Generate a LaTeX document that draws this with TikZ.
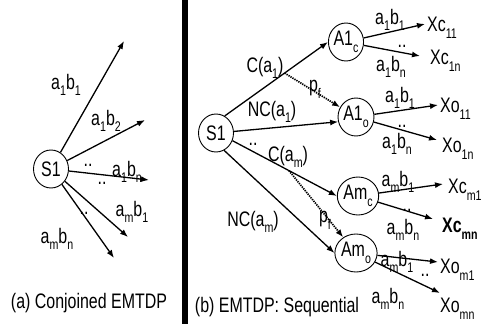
\documentclass[tikz,border=0pt]{standalone}
\usepackage{fontspec}
\setmainfont{Liberation Sans}[FakeStretch=0.76]
\usetikzlibrary{arrows.meta,shapes.geometric,calc}
\newcommand{\lo}[1]{\raisebox{-0.32em}{\fontsize{14}{14}\selectfont #1}}
\begin{document}
\begin{tikzpicture}[x=1pt,y=-1pt,
  every node/.style={font=\fontsize{21}{22}\selectfont, inner sep=0pt},
  st/.style={draw, ellipse, line width=0.9pt, minimum width=35pt, minimum height=38pt, inner sep=0pt},
  arr/.style={-{Latex[length=8pt,width=6pt]}, line width=1.3pt},
  darr/.style={arr, densely dotted, line width=1.7pt},
  outl/.style={anchor=west}]
\useasboundingbox (0,0) rectangle (485,324);
% ---------- left panel ----------
\node[st] (L) at (51,169) {S1};
\coordinate (l1) at (124,41);
\coordinate (l2) at (145,120);
\coordinate (l3) at (149,180);
\coordinate (l4) at (128,237);
\coordinate (l5) at (114,258);
\draw[arr] (L) -- (l1);
\draw[arr] (L) -- (l2);
\draw[arr] (L) -- (l3);
\draw[arr] (L) -- (l4);
\draw[arr] (L) -- (l5);
\node (la1) at (66,85) {a\lo{1}b\lo{1}};
\node (la2) at (106,121) {a\lo{1}b\lo{2}};
\node (la3) at (127,172) {a\lo{1}b\lo{n}};
\node (la4) at (132,212) {a\lo{m}b\lo{1}};
\node (la5) at (57,239) {a\lo{m}b\lo{n}};
\node (ld1) at (88,165) {..};
\node (ld2) at (102,183) {..};
\node (ld3) at (84,213) {..};
\node (capa) at (89,303) {(a) Conjoined EMTDP};
% separator
\fill (181.5,0) rectangle (187.5,324);
% ---------- right panel ----------
\node[st] (R) at (216,133) {S1};
\node[st] (A1c) at (346,42) {A1\lo{c}};
\node[st] (A1o) at (356,117) {A1\lo{o}};
\node[st] (Amc) at (358,196) {Am\lo{c}};
\node[st] (Amo) at (356,253) {Am\lo{o}};
\draw[arr] (R.63) -- (A1c.west);
\draw[arr] (R.5) -- (A1o.195);
\draw[arr] (R.-25) -- (Amc.west);
\draw[arr] (R.-65) -- (Amo.west);
\coordinate (p1) at ($(R.63)!0.58!(A1c.west)$);
\coordinate (p2) at ($(R.-25)!0.54!(Amc.west)$);
\draw[darr] (p1) -- (A1o);
\draw[darr] (p2) -- (Amo);
\node (c1) at (265,68) {C(a\lo{1})};
\node (pf1) at (315,89) {p\lo{f}};
\node (nc1) at (272,112) {NC(a\lo{1})};
\node (rd) at (253,144) {..};
\node (cm) at (288,157) {C(a\lo{m})};
\node (ncm) at (253,222) {NC(a\lo{m})};
\node (pf2) at (325,220) {p\lo{f}};
% outputs
\coordinate (t1) at (425,24);
\coordinate (t2) at (420,56);
\coordinate (t3) at (438,105);
\coordinate (t4) at (437,140);
\coordinate (t5) at (443,184);
\coordinate (t6) at (433,219);
\coordinate (t7) at (438,262);
\coordinate (t8) at (440,293);
\draw[arr] (A1c) -- (t1);
\draw[arr] (A1c) -- (t2);
\draw[arr] (A1o) -- (t3);
\draw[arr] (A1o) -- (t4);
\draw[arr] (Amc) -- (t5);
\draw[arr] (Amc) -- (t6);
\draw[arr] (Amo) -- (t7);
\draw[arr] (Amo) -- (t8);
\node[outl] (x1) at (427,28) {Xc\lo{11}};
\node[outl] (x2) at (430,61) {Xc\lo{1n}};
\node[outl] (x3) at (440,109) {Xo\lo{11}};
\node[outl] (x4) at (442,149) {Xo\lo{1n}};
\node[outl] (x5) at (448,190) {Xc\lo{m1}};
\node[outl] (x6) at (442,229) {\bfseries Xc\lo{\bfseries mn}};
\node[outl] (x7) at (440,270) {Xo\lo{m1}};
\node[outl] (x8) at (440,309) {Xo\lo{mn}};
\node (e1) at (390,20) {a\lo{1}b\lo{1}};
\node (e2) at (391,67) {a\lo{1}b\lo{n}};
\node (d2) at (402,46) {..};
\node (e3) at (400,98) {a\lo{1}b\lo{1}};
\node (e4) at (397,144) {a\lo{1}b\lo{n}};
\node (d4) at (402,126) {..};
\node (e5) at (398,182) {a\lo{m}b\lo{1}};
\node (e6) at (403,230) {a\lo{m}b\lo{n}};
\node (d6) at (407,210) {..};
\node (e7) at (397,262) {a\lo{m}b\lo{1}};
\node (d7) at (425,275) {..};
\node (e8) at (388,299) {a\lo{m}b\lo{n}};
\node (capb) at (277,307) {(b) EMTDP: Sequential};
\end{tikzpicture}
\end{document}
